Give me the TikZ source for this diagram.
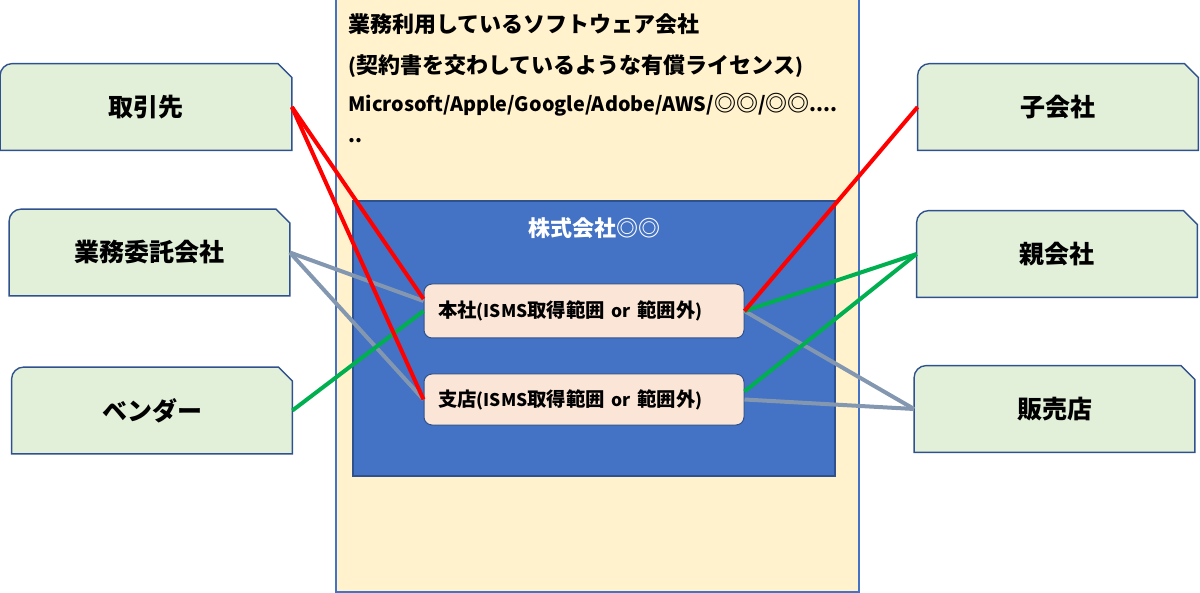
\documentclass[tikz,border=0pt]{standalone}
\usepackage{fontspec}
\setmainfont{Noto Sans CJK JP}
\newfontfamily\latin{Noto Sans CJK JP}[Scale=0.9]
\usetikzlibrary{positioning, backgrounds}
\definecolor{softfill}{HTML}{FFF2CC}
\definecolor{corpblue}{HTML}{4472C4}
\definecolor{frameblue}{HTML}{2F528F}
\definecolor{officefill}{HTML}{FBE5D6}
\definecolor{partyfill}{HTML}{E2F0D9}
\definecolor{linkred}{HTML}{FF0000}
\definecolor{linkgreen}{HTML}{00B050}
\definecolor{linkgray}{HTML}{8497B0}
\tikzset{
  party/.style={
    minimum width=140pt,
    minimum height=43pt,
    inner sep=0pt,
    font=\bfseries\fontsize{12.5pt}{15pt}\selectfont
  },
  partyframe/.style={
    draw=frameblue,
    line width=0.7pt,
    fill=partyfill
  },
  office/.style={
    draw=frameblue,
    line width=0.5pt,
    rounded corners=4pt,
    fill=officefill,
    text width=146pt,
    inner xsep=7pt,
    inner ysep=0pt,
    align=left,
    font=\bfseries\fontsize{9.7pt}{12pt}\selectfont
  },
  softline/.style={
    anchor=base west,
    inner sep=0pt,
    font=\bfseries\fontsize{11pt}{13pt}\selectfont
  },
  link/.style={
    line width=2pt
  }
}

\begin{document}
\begin{tikzpicture}[x=0.5pt, y=-0.5pt]
        \useasboundingbox (0,0) rectangle (1200,593);

        % software vendors and the company
        \node[draw=corpblue, line width=0.7pt, fill=softfill, minimum width=261.5pt, minimum height=297pt] (soft) at (597.5,295) {};
        \node[softline] (softline1) at (348,33) {業務利用しているソフトウェア会社};
        \node[softline] (softline2) at (348,74) {{\latin (}契約書を交わしているような有償ライセンス{\latin )}};
        \node[softline] (softline3) at (348,112) {{\latin Microsoft/Apple/Google/Adobe/AWS/}◎◎{\latin /}◎◎{\latin ....}};
        \node[softline] (softline4) at (348,143) {{\latin ..}};

        \node[draw=frameblue, line width=0.7pt, fill=corpblue, minimum width=241pt, minimum height=137.5pt] (corp) at (594,338.5) {};
        \node[text=white, font=\bfseries\fontsize{11pt}{13pt}\selectfont, below=5pt of corp.north] (corptitle) {株式会社◎◎};

        \node[office, minimum height=27pt] (honsha) at (584,311) {本社{\latin (ISMS}取得範囲{\latin{} or }範囲外{\latin )}};
        \node[office, minimum height=25.5pt] (shiten) at (584,399.5) {支店{\latin (ISMS}取得範囲{\latin{} or }範囲外{\latin )}};

        % partners
        \node[party, minimum width=145.5pt] (torihiki) at (146,107) {取引先};
        \node[party] (itaku) at (149.5,252.5) {業務委託会社};
        \node[party] (vendor) at (152,410.5) {ベンダー};
        \node[party] (kogaisha) at (1058,107) {子会社};
        \node[party] (oyagaisha) at (1057,254) {親会社};
        \node[party] (hanbai) at (1054.5,409) {販売店};

        \begin{pgfonlayer}{background}
          \foreach \n in {torihiki, itaku, vendor, kogaisha, oyagaisha, hanbai}
            \draw[partyframe] (\n.south west) -- ([yshift=-6pt]\n.north west)
              arc[start angle=180, end angle=90, radius=6pt]
              -- ([xshift=-7pt]\n.north east) -- ([yshift=-7pt]\n.north east)
              -- (\n.south east) -- cycle;
        \end{pgfonlayer}

        % connections
        \draw[link, linkgray] (itaku.east) -- ([yshift=5pt]honsha.west);
        \draw[link, linkgray] (itaku.east) -- (shiten.west);
        \draw[link, linkgray] (honsha.east) -- (hanbai.west);
        \draw[link, linkgray] (shiten.east) -- (hanbai.west);
        \draw[link, linkgreen] (vendor.east) -- (honsha.west);
        \draw[link, linkgreen] (oyagaisha.west) -- (honsha.east);
        \draw[link, linkgreen] (oyagaisha.west) -- ([yshift=4pt]shiten.east);
        \draw[link, linkred] (torihiki.east) -- ([yshift=6pt]honsha.west);
        \draw[link, linkred] (torihiki.east) -- (shiten.west);
        \draw[link, linkred] (kogaisha.west) -- (honsha.east);
      \end{tikzpicture}
\end{document}
